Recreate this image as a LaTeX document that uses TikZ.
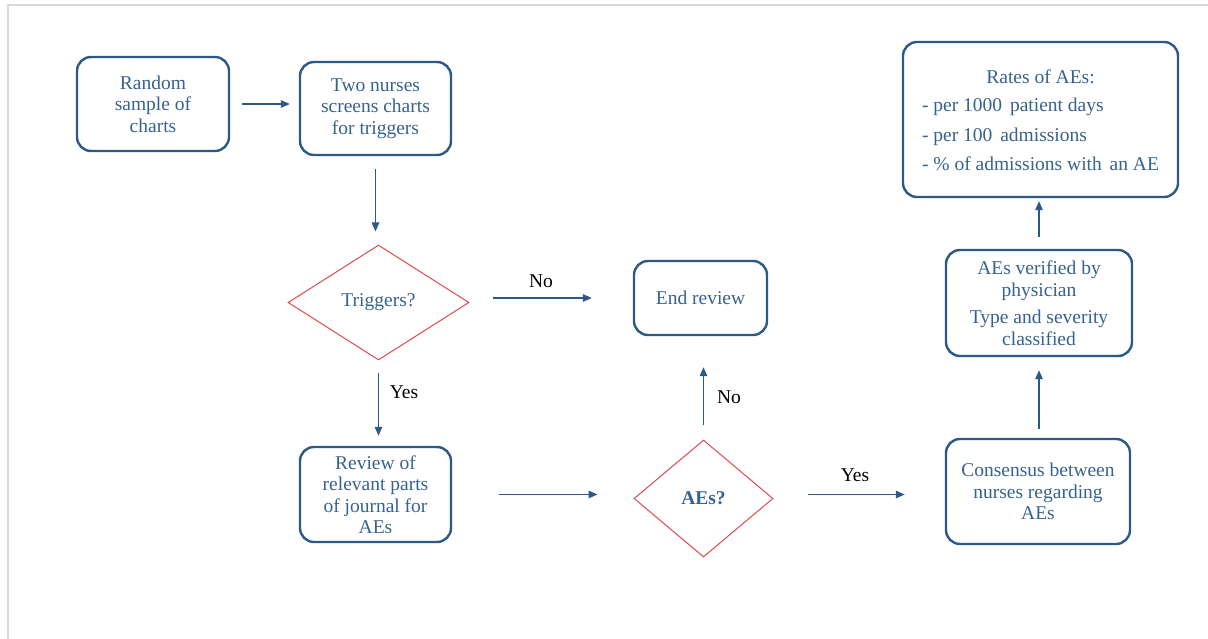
\documentclass[tikz,border=0pt]{standalone}
\usepackage{fontspec}
\setmainfont{Liberation Serif}
\usetikzlibrary{shapes.geometric,arrows.meta}
\definecolor{boxblue}{HTML}{2D5986}
\definecolor{txtblue}{HTML}{36628F}
\definecolor{dred}{HTML}{E04A4F}
\definecolor{framegray}{HTML}{D9D9D9}
\begin{document}
\begin{tikzpicture}[x=1pt,y=-1pt,
  font=\fontsize{19.5}{21.5}\selectfont,
  stepbox/.style={draw=boxblue,line width=2.4pt,rounded corners=14pt,text=txtblue,align=center,inner sep=0pt},
  decision/.style={diamond,draw=dred,line width=1pt,text=txtblue,inner sep=0pt},
  conn/.style={draw=boxblue,line width=1.3pt,-{Triangle[length=9pt,width=7.5pt]}},
  lbl/.style={text=black,inner sep=0pt}]
\useasboundingbox (0,0) rectangle (1208,639);
\draw[framegray,line width=2pt] (8,639) -- (8,5.5) -- (1208,5.5);
% nodes
\node[stepbox,minimum width=152pt,minimum height=94pt] (rand) at (153,104) {Random\\sample of\\charts};
\node[stepbox,minimum width=151pt,minimum height=93pt] (two) at (375.5,108.5) {Two nurses\\screens charts\\for triggers};
\node[decision,minimum width=181pt,minimum height=115pt,aspect=1.57] (trig) at (378.5,302.5) {Triggers?};
\node[stepbox,minimum width=133pt,minimum height=74pt] (end) at (700.5,298) {End review};
\node[stepbox,minimum width=151pt,minimum height=95pt] (rev) at (375.5,494.5) {Review of\\relevant parts\\of journal for\\AEs};
\node[decision,minimum width=139pt,minimum height=117pt,aspect=1.19] (aes) at (703.5,498.5) {\bfseries AEs?};
\node[stepbox,minimum width=184pt,minimum height=105pt] (cons) at (1038,491.5) {Consensus between\\nurses regarding\\AEs};
\node[stepbox,minimum width=186pt,minimum height=106pt] (ver) at (1039,303) {AEs verified by\\physician\\[6pt]Type and severity\\classified};
\node[stepbox,minimum width=275pt,minimum height=155pt] (rates) at (1040.5,119.5) {\begin{tabular}{@{}l@{}}\multicolumn{1}{@{}c@{}}{\rule{0pt}{21pt}Rates of AEs:}\\[7pt]- per 1000\hspace{3pt} patient days\\[8pt]- per 100\hspace{3pt} admissions\\[8pt]- \% of admissions with\hspace{3pt} an AE\end{tabular}};
% labels
\node[lbl] (no1) at (541,281) {No};
\node[lbl] (yes1) at (404,392) {Yes};
\node[lbl] (no2) at (729,397) {No};
\node[lbl] (yes2) at (855,475) {Yes};
% connectors
\draw[conn,shorten <=12pt,shorten >=9pt] (rand.east) -- (rand.east -| two.west);
\draw[conn,shorten <=13pt,shorten >=13pt] (two.south) -- (two.south |- trig.north);
\draw[conn,shorten <=23pt,shorten >=41pt] (trig.east |- end.west) -- (end.west);
\draw[conn,shorten <=12pt,shorten >=10pt] (trig.south) -- (trig.south |- rev.north);
\draw[conn,shorten <=47pt,shorten >=36pt] (rev.east) -- (rev.east -| aes.west);
\draw[conn,shorten <=15pt,shorten >=31pt] (aes.north) -- (aes.north |- end.south);
\draw[conn,shorten <=34pt,shorten >=40pt] ([yshift=4pt]aes.east) -- ([yshift=4pt]aes.east -| cons.west);
\draw[conn,shorten <=9pt,shorten >=13pt] (cons.north -| ver.south) -- (ver.south);
\draw[conn,shorten <=12pt,shorten >=3pt] (ver.north) -- (ver.north |- rates.south);
\end{tikzpicture}
\end{document}
